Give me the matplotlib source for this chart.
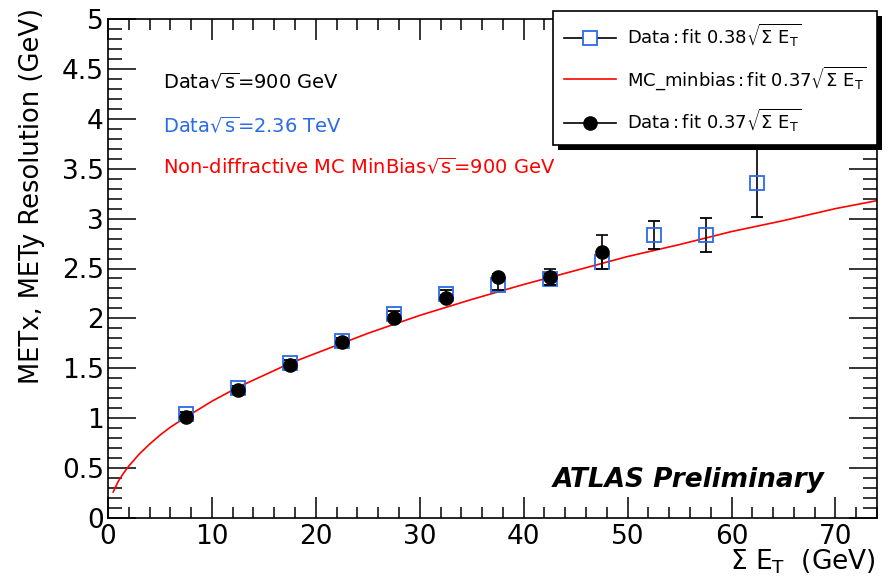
import matplotlib.pyplot as plt
from matplotlib.lines import Line2D
from matplotlib.patches import Rectangle
from matplotlib.ticker import MultipleLocator
import numpy as np

plt.rcParams['mathtext.default'] = 'regular'

# Data sqrt(s)=2.36 TeV (open squares)
sq_x = [7.5, 12.5, 17.5, 22.5, 27.5, 32.5, 37.5, 42.5, 47.5, 52.5, 57.5, 62.5]
sq_y = [1.04, 1.30, 1.55, 1.77, 2.04, 2.24, 2.33, 2.39, 2.57, 2.84, 2.84, 3.36]
sq_err = [0.02, 0.02, 0.03, 0.03, 0.03, 0.04, 0.05, 0.06, 0.08, 0.14, 0.17, 0.34]

# Data sqrt(s)=900 GeV (filled circles)
ci_x = [7.5, 12.5, 17.5, 22.5, 27.5, 32.5, 37.5, 42.5, 47.5]
ci_y = [1.01, 1.28, 1.53, 1.76, 2.00, 2.20, 2.41, 2.41, 2.67]
ci_err = [0.01, 0.02, 0.02, 0.02, 0.03, 0.03, 0.03, 0.08, 0.17]

# MC minbias fit curve
mc_x = [0.5, 1, 1.5, 2, 3, 4, 5, 6, 7.5, 10, 12.5, 15, 17.5, 20, 25, 30, 35,
        40, 45, 50, 55, 60, 65, 70, 74]
mc_y = [0.26, 0.37, 0.45, 0.52, 0.64, 0.74, 0.83, 0.91, 1.01, 1.17, 1.31, 1.43,
        1.55, 1.65, 1.85, 2.03, 2.19, 2.34, 2.48, 2.62, 2.74, 2.87, 2.98, 3.10, 3.18]

fig = plt.figure(figsize=(8.93, 5.82), dpi=100)
ax = fig.add_axes([108 / 893, 1 - 518 / 582, 769 / 893, 499 / 582])

ax.plot(mc_x, mc_y, color='red', lw=1.2, zorder=2)
ax.errorbar(sq_x, sq_y, yerr=sq_err, fmt='s', ms=10, mfc='none', mec='#2a6ae8',
            mew=1.3, ecolor='black', elinewidth=1.2, capsize=4, capthick=1.2, zorder=3)
ax.errorbar(ci_x, ci_y, yerr=ci_err, fmt='o', ms=9.5, color='black',
            ecolor='black', elinewidth=1.2, capsize=4, capthick=1.2, zorder=4)

ax.set_xlim(0, 74)
ax.set_ylim(0, 5)
ax.xaxis.set_major_locator(MultipleLocator(10))
ax.xaxis.set_minor_locator(MultipleLocator(2))
ax.yaxis.set_major_locator(MultipleLocator(0.5))
ax.yaxis.set_minor_locator(MultipleLocator(0.1))
ax.set_yticks(np.arange(0, 5.01, 0.5))
ax.set_yticklabels(['0', '0.5', '1', '1.5', '2', '2.5', '3', '3.5', '4', '4.5', '5'])
ax.tick_params(which='both', direction='in', top=True, right=True, labelsize=19,
               width=1.1)
ax.tick_params(axis='x', which='major', length=15, pad=4)
ax.tick_params(axis='x', which='minor', length=8)
ax.tick_params(axis='y', which='major', length=20, pad=3)
ax.tick_params(axis='y', which='minor', length=10)
for s in ax.spines.values():
    s.set_linewidth(1.2)

ax.set_ylabel('METx, METy Resolution (GeV)', fontsize=18.5, ha='right')
ax.yaxis.set_label_coords(-63 / 769, 1 + 11 / 499)
fig.text(876 / 893, 1 - 562 / 582, r'$\Sigma$ E$_T$  (GeV)', fontsize=19,
         ha='right', va='center')

fig.text(163 / 893, 1 - 82 / 582, r'Data$\sqrt{s}$=900 GeV', fontsize=14,
         color='black', va='center')
fig.text(163 / 893, 1 - 126 / 582, r'Data$\sqrt{s}$=2.36 TeV', fontsize=14,
         color='#2a6ae8', va='center')
fig.text(163 / 893, 1 - 167 / 582, r'Non-diffractive MC MinBias$\sqrt{s}$=900 GeV',
         fontsize=14, color='red', va='center')
fig.text(553 / 893, 1 - 480 / 582, 'ATLAS Preliminary', fontsize=19,
         fontweight='bold', fontstyle='italic', va='center')

handles = [
    Line2D([], [], color='black', lw=1.2, marker='s', ms=10, mfc='white',
           mec='#2a6ae8', mew=1.3),
    Line2D([], [], color='red', lw=1.2),
    Line2D([], [], color='black', lw=1.2, marker='o', ms=9.5),
]
labels = [
    r'Data$\,$:$\,$fit 0.38$\sqrt{\Sigma\ E_T}$',
    r'MC_minbias$\,$:$\,$fit 0.37$\sqrt{\Sigma\ E_T}$',
    r'Data$\,$:$\,$fit 0.37$\sqrt{\Sigma\ E_T}$',
]
leg = fig.legend(handles, labels, loc='upper left',
                 bbox_to_anchor=(553 / 893, 1 - 11 / 582), borderaxespad=0,
                 fontsize=13, fancybox=False, edgecolor='black', framealpha=1,
                 handlelength=2.9, handletextpad=0.6, labelspacing=0.85,
                 borderpad=0.6)
leg.get_frame().set_linewidth(1.2)
leg.set_zorder(10)

# ROOT style drop shadow behind the legend box
fig.canvas.draw()
bb = leg.get_window_extent()
shadow = Rectangle((bb.x0 + 5, bb.y0 - 5), bb.width, bb.height, transform=None,
                   facecolor='black', edgecolor='none', zorder=9)
fig.add_artist(shadow)

fig.savefig('out.png', dpi=100)
